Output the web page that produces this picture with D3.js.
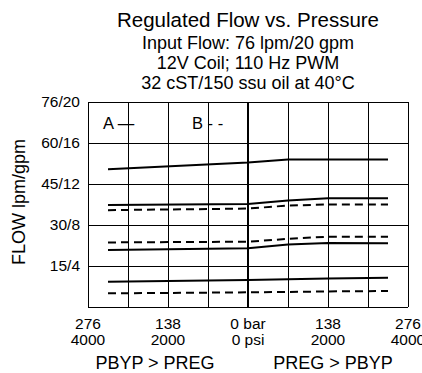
<!DOCTYPE html>
<html><head><meta charset="utf-8">
<script src="https://cdn.jsdelivr.net/npm/d3@7"></script>
<style>body{margin:0;background:#fff}svg{display:block}text{font-family:"Liberation Sans",Arial,sans-serif;fill:#000}</style>
</head><body><svg id="c" width="422" height="373"></svg>
<script>
// Data (x in signed psi: negative = PBYP > PREG, positive = PREG > PBYP; y in gpm)
const titleLines = ["Regulated Flow vs. Pressure","Input Flow: 76 lpm/20 gpm","12V Coil; 110 Hz PWM","32 cST/150 ssu oil at 40°C"];
const yTickValues = [0,4,8,12,16,20];
const yTickLabels = ["","15/4","30/8","45/12","60/16","76/20"];
const xTickValues = [-4000,-2000,0,2000,4000];
const xTickTop = ["276","138","0 bar","138","276"];
const xTickBottom = ["4000","2000","0 psi","2000","4000"];
const xGridValues = [-4000,-3000,-2000,-1000,0,1000,2000,3000,4000];
const xPts = [-3500,0,1000,2000,3500];
const solidA1 = [13.45,14.1,14.4,14.4,14.4];
const solidA2 = [9.95,10.05,10.4,10.6,10.6];
const dashB2 = [9.45,9.6,9.9,10.0,10.0];
const dashB3 = [6.3,6.37,6.65,6.86,6.86];
const solidA3 = [5.56,5.72,6.1,6.25,6.22];
const solidA4 = [2.47,2.63,2.7,2.78,2.86];
const dashB4 = [1.33,1.43,1.47,1.52,1.56];
const series = [
  {v:solidA1,dash:false},{v:solidA2,dash:false},{v:dashB2,dash:true},
  {v:dashB3,dash:true},{v:solidA3,dash:false},{v:solidA4,dash:false},{v:dashB4,dash:true}
];

const svg = d3.select("#c");
const L=88,R=408,T=102,B=307;
const x = d3.scaleLinear().domain([-4000,4000]).range([L,R]);
const y = d3.scaleLinear().domain([0,20]).range([B,T]);

// titles
const tY=[27,49,69,89], tS=[20.5,18,18,18];
svg.selectAll("text.t").data(titleLines).join("text").attr("class","t")
  .attr("x",248).attr("y",(d,i)=>tY[i]).attr("text-anchor","middle")
  .style("font-size",(d,i)=>tS[i]+"px").text(d=>d);

// grid
const g = svg.append("g");
g.selectAll("line.h").data(yTickValues).join("line")
  .attr("x1",L).attr("x2",R).attr("y1",d=>y(d)).attr("y2",d=>y(d))
  .attr("stroke","#000").attr("stroke-width",1).attr("shape-rendering","crispEdges");
g.selectAll("line.v").data(xGridValues).join("line")
  .attr("y1",T).attr("y2",B).attr("x1",d=>x(d)).attr("x2",d=>x(d))
  .attr("stroke","#000").attr("stroke-width",d=>d===0?2:1).attr("shape-rendering","crispEdges");

// y tick labels
svg.selectAll("text.yt").data(yTickValues).join("text").attr("class","yt")
  .attr("x",80).attr("y",d=>y(d)).attr("dy","0.35em").attr("text-anchor","end")
  .style("font-size","15.5px").text((d,i)=>yTickLabels[i]);

// x tick labels
const xt = svg.selectAll("g.xt").data(xTickValues).join("g").attr("class","xt");
xt.append("text").attr("x",d=>x(d)).attr("y",329).attr("text-anchor","middle").style("font-size","15.5px").text((d,i)=>xTickTop[i]);
xt.append("text").attr("x",d=>x(d)).attr("y",345).attr("text-anchor","middle").style("font-size","15.5px").text((d,i)=>xTickBottom[i]);

// axis titles
svg.append("text").attr("x",155).attr("y",369).attr("text-anchor","middle").style("font-size","18px").text("PBYP > PREG");
svg.append("text").attr("x",333).attr("y",369).attr("text-anchor","middle").style("font-size","18px").text("PREG > PBYP");
svg.append("text").attr("transform","translate(25,202) rotate(-90)").attr("text-anchor","middle").style("font-size","18px").text("FLOW lpm/gpm");

// legend
svg.append("text").attr("x",103).attr("y",129).style("font-size","16.5px").text("A —");
svg.append("text").attr("x",192).attr("y",129).style("font-size","16.5px").text("B - -");

// series
const line = d3.line().x((d,i)=>x(xPts[i])).y(d=>y(d));
svg.selectAll("path.s").data(series).join("path").attr("class","s")
  .attr("d",d=>line(d.v)).attr("fill","none").attr("stroke","#000").attr("stroke-width",2)
  .attr("stroke-dasharray",d=>d.dash?"8,5":null);
</script></body></html>
